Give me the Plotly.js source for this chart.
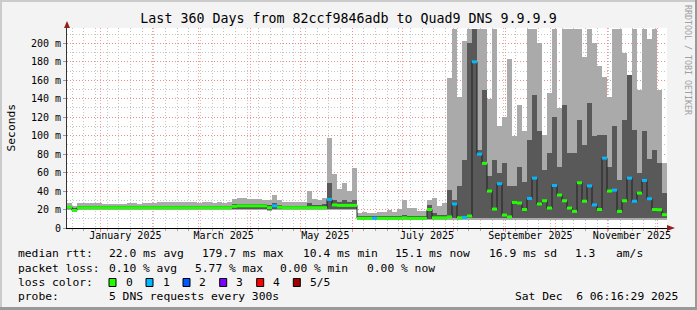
<!DOCTYPE html>
<html><head><meta charset="utf-8">
<script src="https://cdn.plot.ly/plotly-3.0.1.min.js"></script>
<style>html,body{margin:0;padding:0;background:#f3f3f3;}#chart{width:697px;height:310px;}</style>
</head><body><div id="chart"></div>
<script>
// ---- data (3-day bins from 2024-12-12) ----
const binStart = '2024-12-12T00:00:00Z';
const binDays = 3;
const smokeHi = [27,24,27.5,27.5,27.5,27,27.5,26.5,26.5,26.5,
 26,26.5,27,27,26.5,27,27,27,28.5,28.5,
 28,28,28,28,28,28,27.5,28,28,27.5,
 28,27.5,28,31,32,32,31.5,31,31,30.5,
 30,36,30,28,28,28.5,28,28.5,40,31,
 30,32.5,97,58,42,49,40,65,16,17,
 16.5,16,17,17,20,17.5,21,30.5,22,21.5,
 18,18,30.5,32,24,27,162,216,142,203,
 216,216,216,216,140,216,110,120,183,100,
 133,105,216,216,200,101,146,216,130,216,
 216,216,216,185,216,200,175,163,142,216,
 216,190,164,216,149,216,205,216,150,70];
const coreHi = [24,22,24,24,24,24,24,24,23.5,24,
 23.5,24,24,24,24,24,24,24,24,24,
 24,24,24,24,24,24,24,24,24,24,
 24,24,24,25.5,26,26,26,26,25.5,25.5,
 25,27,25,24,24,24,24,24,27,25,
 25,25.5,49,30,28,30,28,30,12.5,12.5,
 12.5,12.5,12.5,12.5,13,12.5,13,14,13,13,
 12.5,12.5,25,16,14,14,41,30,45,74,
 200,216,85,150,56,74,60,70,45,45,
 66,50,95,144,105,63,81,120,66,133,
 81,81,117,90,135,100,101,101,66,110,
 52,117,166,106,60,105,75,85,70,38];
const smokeLo = [20,17.5,20,20,20,20,20,20,20,20,
 20,20,20,20,20,20,20,20,20,20,
 20,20,20,20,20,20,20,20,20,20,
 20,20,20,20,20,20,20,20,20,20,
 18,20,20,20,20,20,20,20,20,20,
 20,20,20,20,20,20,20,20,9,9,
 9,9,9,9,9,9,9,9,9,9,
 9,9,9,9,9,9,9,9,9,9,
 9,9,9,9,9,9,9,9,9,9,
 9,9,9,9,9,9,9,9,9,9,
 9,9,9,9,9,9,9,9,9,9,
 9,9,9,9,9,9,9,9,9,9];
const coreLo = [20.5,18,20.5,20.5,20.5,20.5,20.5,20.5,20.5,20.5,
 20.5,20.5,20.5,20.5,20.5,20.5,20.5,20.5,20.5,20.5,
 20.5,20.5,20.5,20.5,20.5,20.5,20.5,20.5,20.5,20.5,
 20.5,20.5,20.5,20.5,20.5,20.5,20.5,20.5,20.5,20.5,
 19,20.5,20.5,20.5,20.5,20.5,20.5,20.5,20.5,20.5,
 20.5,20.5,20.5,20.5,20.5,20.5,20.5,20.5,9.5,9.5,
 9.5,9.5,9.5,9.5,9.5,9.5,9.5,9.5,9.5,9.5,
 9.5,9.5,9.5,9.5,9.5,9.5,11,11,11,11,
 11,11,11,11,11,11,11,11,11,11,
 11,11,11,11,11,11,11,11,11,11,
 11,11,11,11,11,11,11,11,11,11,
 11,11,11,11,11,11,11,11,11,11];
const medianRtt = [22.5,19,22,22,22,22,22,22,22,22,
 22,22,22,22,22,22,22,22,22,22,
 22,22,22,22,22,22,22,22,22,22,
 22,22,22,23.5,24,24,24,24,24,24,
 22,24,22.5,22,22,22,22,22,22,22,
 22,22,31,25,24.5,24.5,24.5,24.5,10.5,10.5,
 10.5,10.5,10.5,10.5,10.5,10.5,10.5,11,10.5,10.5,
 10.5,10.5,20,11,11,11,12,26,11,11.5,
 13,180,80,70,40,20.5,48,14,12,27.7,
 27,20,32,54,26,29.5,21.6,46,35.7,29.5,
 21.6,18,49,29,45.6,25,20,75.7,40,41,
 18,29.5,54,29,37.8,51.5,31.7,20,19.8,14.4];
const lossCount = [0,0,0,0,0,0,0,0,0,0,
 0,0,0,0,0,0,0,0,0,0,
 0,0,0,0,0,0,0,0,0,0,
 0,0,0,0,0,0,0,0,0,0,
 0,1,0,0,0,0,0,0,0,0,
 0,0,1,0,0,0,0,0,0,0,
 0,1,0,0,0,0,0,0,0,0,
 0,0,0,0,0,0,0,1,0,1,
 0,1,1,0,0,0,1,0,0,0,
 0,0,1,1,0,0,0,1,0,0,
 0,0,0,0,1,1,0,1,0,1,
 0,0,1,1,0,1,1,0,0,0];

const xRange = ['2024-12-12 00:00:00', '2025-12-07 00:00:00'];
const monthStarts = ['2025-01-01','2025-02-01','2025-03-01','2025-04-01','2025-05-01','2025-06-01',
 '2025-07-01','2025-08-01','2025-09-01','2025-10-01','2025-11-01','2025-12-01'];
const monthLabelDates = ['2025-01-16','2025-03-16','2025-05-16','2025-07-16','2025-09-16','2025-11-16'];
const monthLabels = ['January 2025','March 2025','May 2025','July 2025','September 2025','November 2025'];
const yTickVals = [0,20,40,60,80,100,120,140,160,180,200];
const yTickText = ['0','20 m','40 m','60 m','80 m','100 m','120 m','140 m','160 m','180 m','200 m'];
const lossColors = ['#20ff00','#00b8ff','#0059ff','#7e00ff','#ff0000','#a10000'];
const lossNames = ['0','1','2','3','4','5/5'];
const statRows = [
 [['median rtt:',16],['22.0 ms avg',107],['179.7 ms max',200],['10.4 ms min',301],['15.1 ms now',393],['16.9 ms sd',487],['1.3',573],['am/s',614]],
 [['packet loss:',16],['0.10 % avg',107],['5.77 % max',193],['0.00 % min',278],['0.00 % now',365]],
 [['loss color:',16]],
 [['probe:',16],['5 DNS requests every 300s',107],['Sat Dec  6 06:16:29 2025',513]]
];
const rowY = [254,268,282,296];
const swatchX = [109,146,183,219.7,256.7,293.3];
const swatchLabelX = [124,160.7,197.3,234.3,271,308];

// ---- build ----
const DAY = 864e5;
const t0 = Date.parse(binStart);
const n = medianRtt.length;
const starts = [], centers = [];
for (let i = 0; i < n; i++) { starts.push(t0 + i*binDays*DAY); centers.push(t0 + (i+0.5)*binDays*DAY); }
const W = binDays*DAY;
const traces = [];
traces.push({type:'bar', x:centers, base:smokeLo, y:smokeHi.map((v,i)=>v-smokeLo[i]), width:W,
  marker:{color:'#aaaaaa', line:{width:0}}, hoverinfo:'skip'});
traces.push({type:'bar', x:centers, base:coreLo, y:coreHi.map((v,i)=>v-coreLo[i]), width:W,
  marker:{color:'#595959', line:{width:0}}, hoverinfo:'skip'});
traces.push({type:'scatter', mode:'lines', x:starts.concat([t0+n*W]), y:medianRtt.concat([medianRtt[n-1]]),
  line:{shape:'hv', color:'#202020', width:1}, hoverinfo:'skip'});
for (let k = 0; k < lossColors.length; k++) {
  const sx = [], sy = [];
  for (let i = 0; i < n; i++) if (lossCount[i] === k) { sx.push(starts[i], starts[i]+W, null); sy.push(medianRtt[i], medianRtt[i], null); }
  if (sx.length) traces.push({type:'scatter', mode:'lines', x:sx, y:sy, line:{color:lossColors[k], width:3}, hoverinfo:'skip', connectgaps:false});
}
traces.push({type:'scatter', x:[], y:[], xaxis:'x2', yaxis:'y', hoverinfo:'skip'});

const PX = p => (p-67)/600, PY = p => (228-p)/200;
const mono = 'DejaVu Sans Mono';
const annotations = [];
statRows.forEach((row, r) => row.forEach(([t, x]) => annotations.push({
  text:t, x:PX(x), y:PY(rowY[r]), xref:'paper', yref:'paper', xanchor:'left', yanchor:'middle',
  showarrow:false, font:{family:mono, size:11.3, color:'#000'}})));
swatchLabelX.forEach((x,i)=>annotations.push({text:lossNames[i], x:PX(x), y:PY(rowY[2]), xref:'paper', yref:'paper',
  xanchor:'left', yanchor:'middle', showarrow:false, font:{family:mono, size:11.3, color:'#000'}}));
annotations.push({text:'Seconds', x:PX(10.5), y:PY(128), xref:'paper', yref:'paper', textangle:-90,
  xanchor:'center', yanchor:'middle', showarrow:false, font:{family:mono, size:11.3, color:'#000'}});
annotations.push({text:'RRDTOOL / TOBI OETIKER', x:PX(688), y:PY(60), xref:'paper', yref:'paper', textangle:90,
  xanchor:'center', yanchor:'middle', showarrow:false, font:{family:mono, size:8.3, color:'#a0a0a0'}});

const shapes = [];
const rect = (x0,y0,x1,y1,fill,line) => shapes.push({type:'rect', xref:'paper', yref:'paper',
  x0:PX(x0), x1:PX(x1), y0:PY(y0), y1:PY(y1), fillcolor:fill, line:line||{width:0}});
rect(0,0,697,2,'#cbcbcb'); rect(0,0,2,310,'#cbcbcb');
rect(695,0,697,310,'#999999'); rect(0,307,697,310,'#999999');
swatchX.forEach((x,i)=>rect(x,278.5,x+7,286.5,lossColors[i],{color:'#000',width:1}));
shapes.push({type:'path', xref:'paper', yref:'paper', fillcolor:'#902020', line:{width:0},
  path:`M ${PX(67)} ${PY(21)} L ${PX(64)} ${PY(28)} L ${PX(70)} ${PY(28)} Z`});
shapes.push({type:'path', xref:'paper', yref:'paper', fillcolor:'#902020', line:{width:0},
  path:`M ${PX(675)} ${PY(228)} L ${PX(667)} ${PY(225)} L ${PX(667)} ${PY(231)} Z`});

const layout = {
  width:697, height:310, margin:{l:67, r:30, t:28, b:82},
  paper_bgcolor:'#f3f3f3', plot_bgcolor:'#ffffff', showlegend:false,
  barmode:'overlay', bargap:0, hovermode:false,
  font:{family:mono, size:10, color:'#000'},
  title:{text:'Last 360 Days from 82ccf9846adb to Quad9 DNS 9.9.9.9', font:{family:mono, size:13.3, color:'#000'},
    x:0.5, xref:'container', xanchor:'center', y:1-18.5/310, yref:'container', yanchor:'middle'},
  xaxis:{type:'date', range:xRange, tickmode:'array', tickvals:monthStarts, showticklabels:false,
    ticks:'outside', ticklen:3, tickcolor:'#ff8080', showgrid:true, gridcolor:'rgba(255,120,120,0.75)',
    griddash:'1px,2px', gridwidth:1, showline:true, linecolor:'#000', linewidth:1, zeroline:false,
    minor:{tickmode:'linear', tick0:'2025-01-05', dtick:7*DAY, showgrid:true, gridcolor:'#c4c4c4',
      griddash:'1px,2px', gridwidth:1, ticks:'outside', ticklen:2, tickcolor:'#aaaaaa'}},
  xaxis2:{type:'date', overlaying:'x', anchor:'y', side:'bottom', range:xRange, tickmode:'array',
    tickvals:monthLabelDates, ticktext:monthLabels, showgrid:false, ticks:'', showline:false, zeroline:false,
    tickfont:{family:mono, size:10, color:'#000'}},
  yaxis:{range:[0,216.6], tickmode:'array', tickvals:yTickVals, ticktext:yTickText, ticks:'outside', ticklen:3,
    tickcolor:'#999999', showgrid:true, gridcolor:'rgba(255,120,120,0.75)', griddash:'1px,2px', gridwidth:1,
    showline:true, linecolor:'#333', linewidth:1, zeroline:false, tickfont:{family:mono, size:10, color:'#000'},
    minor:{tickmode:'linear', tick0:0, dtick:10, showgrid:true, gridcolor:'#c4c4c4', griddash:'1px,2px', gridwidth:1}},
  annotations, shapes
};
Plotly.newPlot('chart', traces, layout, {staticPlot:true, displayModeBar:false});
</script></body></html>
